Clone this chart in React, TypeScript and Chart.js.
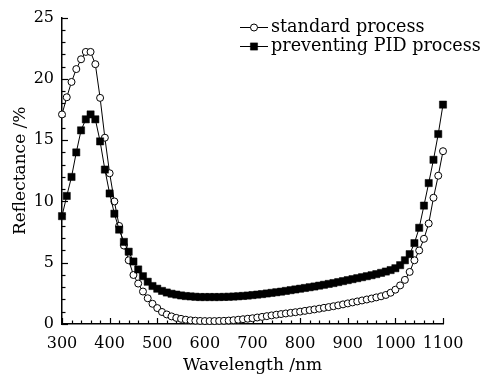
import React, { useEffect, useRef } from 'react';
import { Chart, registerables } from 'chart.js';

Chart.register(...registerables);

const wavelengths = [
  300, 310, 320, 330, 340, 350, 360, 370, 380, 390,
  400, 410, 420, 430, 440, 450, 460, 470, 480, 490,
  500, 510, 520, 530, 540, 550, 560, 570, 580, 590,
  600, 610, 620, 630, 640, 650, 660, 670, 680, 690,
  700, 710, 720, 730, 740, 750, 760, 770, 780, 790,
  800, 810, 820, 830, 840, 850, 860, 870, 880, 890,
  900, 910, 920, 930, 940, 950, 960, 970, 980, 990,
  1000, 1010, 1020, 1030, 1040, 1050, 1060, 1070, 1080, 1090,
  1100,
];

const standardProcess = [
  17.1, 18.5, 19.75, 20.8, 21.6, 22.2, 22.2, 21.2, 18.45, 15.2,
  12.3, 10.0, 8.0, 6.4, 5.2, 4.0, 3.3, 2.65, 2.1, 1.65,
  1.3, 0.98, 0.78, 0.62, 0.5, 0.42, 0.35, 0.3, 0.27, 0.25,
  0.24, 0.24, 0.24, 0.25, 0.26, 0.28, 0.31, 0.35, 0.39, 0.43,
  0.47, 0.53, 0.58, 0.64, 0.7, 0.76, 0.81, 0.86, 0.91, 0.96,
  1.01, 1.07, 1.13, 1.19, 1.25, 1.32, 1.38, 1.45, 1.52, 1.6,
  1.68, 1.76, 1.84, 1.92, 2.0, 2.08, 2.17, 2.26, 2.37, 2.55,
  2.8, 3.15, 3.6, 4.25, 5.2, 6.0, 6.95, 8.2, 10.3, 12.1,
  14.1,
];

const preventingPID = [
  8.8, 10.45, 12.0, 14.0, 15.8, 16.7, 17.1, 16.7, 14.9, 12.6,
  10.65, 9.0, 7.7, 6.7, 5.9, 5.1, 4.45, 3.9, 3.45, 3.1,
  2.88, 2.7, 2.57, 2.47, 2.4, 2.33, 2.28, 2.25, 2.22, 2.2,
  2.2, 2.2, 2.2, 2.2, 2.21, 2.22, 2.24, 2.26, 2.29, 2.32,
  2.36, 2.4, 2.44, 2.49, 2.54, 2.59, 2.64, 2.7, 2.76, 2.82,
  2.88, 2.94, 3.0, 3.06, 3.13, 3.2, 3.27, 3.34, 3.42, 3.5,
  3.58, 3.66, 3.74, 3.82, 3.9, 3.98, 4.07, 4.17, 4.28, 4.4,
  4.55, 4.8, 5.2, 5.7, 6.6, 7.85, 9.66, 11.5, 13.4, 15.5,
  17.9,
];

const xTickLabels = [300, 400, 500, 600, 700, 800, 900, 1000, 1100];
const yTickLabels = [0, 5, 10, 15, 20, 25];
const seriesNames = ['standard process', 'preventing PID process'];

const FONT = "'DejaVu Serif', serif";

function drawMarker(ctx: CanvasRenderingContext2D, style: string, radius: number, x: number, y: number) {
  ctx.beginPath();
  if (style === 'rect') {
    const s = Math.SQRT1_2 * radius;
    ctx.rect(x - s, y - s, 2 * s, 2 * s);
  } else {
    ctx.arc(x, y, radius, 0, Math.PI * 2);
  }
  ctx.closePath();
  ctx.fill();
  ctx.stroke();
}

const inwardTicks = {
  id: 'inwardTicks',
  beforeDatasetsDraw(chart: any) {
    const { ctx } = chart;
    const xs = chart.scales.x;
    const ys = chart.scales.y;
    const bottom = chart.chartArea.bottom;
    const left = chart.chartArea.left;
    ctx.save();
    ctx.strokeStyle = '#000';
    ctx.lineWidth = 1.2;
    for (let v = xs.min; v <= xs.max + 0.001; v += 20) {
      const px = Math.round(xs.getPixelForValue(v)) + 0.5;
      const len = v % 100 === 0 ? 6 : 3.5;
      ctx.beginPath();
      ctx.moveTo(px, bottom);
      ctx.lineTo(px, bottom - len);
      ctx.stroke();
    }
    for (let v = ys.min; v <= ys.max + 0.001; v += 1) {
      const py = Math.round(ys.getPixelForValue(v)) + 0.5;
      const len = v % 5 === 0 ? 6 : 3.5;
      ctx.beginPath();
      ctx.moveTo(left, py);
      ctx.lineTo(left + len, py);
      ctx.stroke();
    }
    ctx.restore();
  },
};

const customLegend = {
  id: 'customLegend',
  afterDraw(chart: any) {
    const { ctx } = chart;
    ctx.save();
    const rows = [
      { y: 27, ds: chart.data.datasets[0] },
      { y: 46, ds: chart.data.datasets[1] },
    ];
    rows.forEach((r) => {
      ctx.strokeStyle = '#000';
      ctx.lineWidth = 1;
      ctx.beginPath();
      ctx.moveTo(240, r.y + 0.5);
      ctx.lineTo(268, r.y + 0.5);
      ctx.stroke();
      ctx.fillStyle = r.ds.pointBackgroundColor;
      ctx.strokeStyle = '#000';
      ctx.lineWidth = r.ds.pointBorderWidth;
      drawMarker(ctx, r.ds.pointStyle, r.ds.pointRadius, 254, r.y + 0.5);
      ctx.fillStyle = '#000';
      ctx.font = `17.6px ${FONT}`;
      ctx.textBaseline = 'middle';
      ctx.textAlign = 'left';
      ctx.fillText(r.ds.label, 271, r.y);
    });
    ctx.restore();
  },
};

export default function App() {
  const canvasRef = useRef<HTMLCanvasElement | null>(null);

  useEffect(() => {
    document.body.style.margin = '0';
    const canvas = canvasRef.current;
    if (!canvas) return;
    const chart = new Chart(canvas, {
      type: 'line',
      data: {
        datasets: [
          {
            label: seriesNames[0],
            data: wavelengths.map((w, i) => ({ x: w, y: standardProcess[i] })),
            borderColor: '#000',
            borderWidth: 1,
            pointStyle: 'circle',
            pointRadius: 3.5,
            pointBorderWidth: 1,
            pointBackgroundColor: '#fff',
            pointBorderColor: '#000',
            fill: false,
            tension: 0,
            order: 1,
            clip: false as any,
          },
          {
            label: seriesNames[1],
            data: wavelengths.map((w, i) => ({ x: w, y: preventingPID[i] })),
            borderColor: '#000',
            borderWidth: 1,
            pointStyle: 'rect',
            pointRadius: 5.1,
            pointBorderWidth: 0.5,
            pointBackgroundColor: '#000',
            pointBorderColor: '#000',
            fill: false,
            tension: 0,
            order: 0,
            clip: false as any,
          },
        ],
      },
      options: {
        animation: false,
        responsive: true,
        maintainAspectRatio: false,
        layout: { padding: { left: 0, top: 16, right: 40, bottom: 0 } },
        plugins: {
          legend: { display: false },
          tooltip: { enabled: false },
        },
        scales: {
          x: {
            type: 'linear',
            min: 300,
            max: 1100,
            afterBuildTicks: (s: any) => {
              s.ticks = xTickLabels.map((v) => ({ value: v }));
            },
            afterFit: (s: any) => {
              s.height = 50;
            },
            grid: { display: false, drawTicks: false },
            border: { display: true, color: '#000', width: 1.5 },
            ticks: {
              color: '#000',
              font: { family: FONT, size: 16 },
              padding: 10,
              maxRotation: 0,
              autoSkip: false,
              callback: (v: any) => String(v),
            },
            title: {
              display: true,
              text: 'Wavelength /nm',
              color: '#000',
              font: { family: FONT, size: 17 },
              padding: { top: 0, bottom: -2 },
            },
          },
          y: {
            type: 'linear',
            min: 0,
            max: 25,
            afterBuildTicks: (s: any) => {
              s.ticks = yTickLabels.map((v) => ({ value: v }));
            },
            afterFit: (s: any) => {
              s.width = 62;
            },
            grid: { display: false, drawTicks: false },
            border: { display: true, color: '#000', width: 1.5 },
            ticks: {
              color: '#000',
              font: { family: FONT, size: 16 },
              padding: 8,
              autoSkip: false,
              callback: (v: any) => String(v),
            },
            title: {
              display: true,
              text: 'Reflectance /%',
              color: '#000',
              font: { family: FONT, size: 17 },
              padding: { top: 10, bottom: 0 },
            },
          },
        },
      },
      plugins: [inwardTicks, customLegend],
    });
    return () => chart.destroy();
  }, []);

  return (
    <div style={{ width: 483, height: 374, position: 'relative', background: '#fff' }}>
      <canvas ref={canvasRef} />
    </div>
  );
}
